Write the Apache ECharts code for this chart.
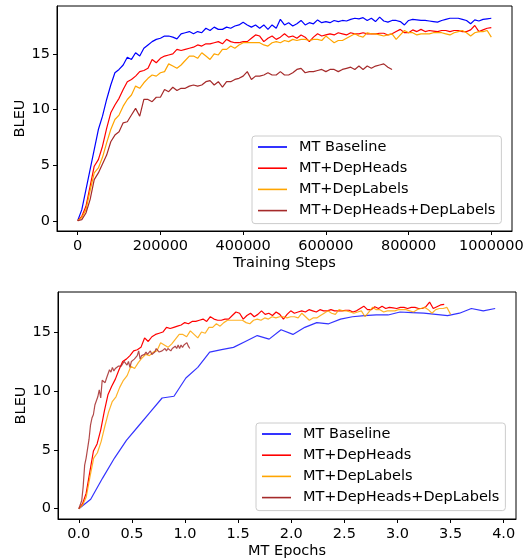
<!DOCTYPE html>
<html><head><meta charset="utf-8">
<script src="https://cdn.jsdelivr.net/npm/echarts@6/dist/echarts.min.js"></script>
<style>html,body{margin:0;padding:0;background:#fff}#c{width:527px;height:560px}</style>
</head><body><div id="c"></div><script>
// ---- Data (BLEU, one value every 10000 training steps) ----
const seriesNames = ['MT Baseline', 'MT+DepHeads', 'MT+DepLabels', 'MT+DepHeads+DepLabels'];
const stepInterval = 10000;

const baselineBleu = [
  0, 1.0, 2.8, 4.6, 6.4, 8.2, 9.4, 10.9, 12.2, 13.3,
  13.6, 14.0, 14.7, 14.5, 15.1, 14.8, 15.5, 15.8, 16.1, 16.3,
  16.4, 16.6, 16.6, 16.5, 16.35, 16.8, 16.9, 17.0, 16.8, 17.0,
  16.9, 17.3, 17.1, 17.4, 17.2, 17.2, 17.4, 17.3, 17.5, 17.6,
  17.85, 17.6, 17.4, 17.6, 17.3, 17.6, 17.2, 17.6, 17.3, 18.1,
  17.6, 17.8, 17.5, 17.7, 18.0, 17.6, 17.8, 17.7, 18.05, 17.8,
  17.9, 17.8, 18.0, 17.9, 18.0, 17.95, 18.1, 18.2, 18.15, 18.25,
  18.0, 18.2, 17.9, 18.3, 17.95, 17.85, 18.0, 18.0, 17.9, 17.6,
  18.0, 18.1, 18.05, 18.0, 18.0, 17.95, 17.9, 17.85, 18.0, 18.1,
  18.2, 18.2, 18.2, 18.1, 18.0, 17.7, 18.05, 17.95, 18.1, 18.15,
  18.2
];
const depHeadsBleu = [
  0, 0.4, 1.3, 3.1, 4.9, 5.5, 6.7, 8.3, 9.7, 10.4,
  11.0, 11.8, 12.5, 12.7, 13.0, 13.4, 13.5, 13.7, 14.5, 14.2,
  14.6, 14.8, 14.9, 15.0, 15.4, 15.3, 15.4, 15.5, 15.6, 15.8,
  15.7, 15.9, 15.9, 16.0, 16.1, 15.9, 16.3, 16.1, 16.0, 16.0,
  16.1, 16.1, 16.4, 16.7, 16.6, 16.1, 16.4, 16.6, 16.3, 16.5,
  16.8, 16.5, 16.6, 16.4, 16.7, 16.5, 16.1, 16.5, 16.8, 16.6,
  16.7, 16.8, 16.7, 16.9, 16.8, 16.7, 16.9, 16.8, 16.8, 16.9,
  16.8, 16.8, 16.8, 16.85, 16.85, 16.7, 16.8, 17.0, 17.2, 16.9,
  16.9, 17.15, 17.0, 17.2, 17.0, 17.1, 17.05, 17.0, 17.1, 17.1,
  17.0, 17.1, 17.1, 17.0, 17.0, 17.15, 17.55, 17.0, 17.15, 17.3,
  17.35
];
const depLabelsBleu = [
  0, 0.3, 1.0, 2.7, 4.3, 4.75, 5.7, 7.0, 8.2, 9.1,
  9.5, 10.3, 10.9, 11.3, 12.1, 11.9, 12.4, 12.8, 13.1, 13.0,
  13.3, 13.4, 14.1, 13.9, 13.7, 14.0, 14.4, 14.8, 14.8, 14.6,
  15.1, 14.8, 14.5, 15.0, 14.9, 15.4, 15.4, 15.7, 15.5, 15.8,
  16.0, 16.0, 16.0, 16.0, 16.0, 15.8, 15.7, 16.0, 16.1, 16.0,
  16.2, 16.1, 16.3, 16.2, 16.3, 16.3, 16.2, 16.3, 16.3, 16.2,
  16.6, 16.3, 16.0, 16.2, 16.2, 16.4, 16.6, 16.8, 16.6, 16.5,
  16.9, 16.8, 16.8, 16.7, 16.6, 16.7, 16.8, 16.3, 16.7, 17.1,
  16.9, 16.9, 16.7, 16.8, 16.8, 16.8, 16.9, 16.9, 16.9, 16.8,
  16.7, 16.9, 17.0, 17.1, 16.9, 16.6, 16.9, 17.0, 17.0, 17.1,
  16.5
];
const depBothBleu = [
  0, 0.1, 0.7, 1.9, 3.7, 4.3, 5.1, 5.9, 7.1, 7.7,
  8.0, 8.8, 8.9, 9.5, 10.1, 9.4, 10.9, 10.9, 10.7, 11.1,
  11.1, 11.8, 11.6, 12.0, 11.7, 11.9, 11.9, 12.1, 12.2, 12.1,
  12.2, 12.5, 12.6, 12.2, 12.5, 12.0, 12.5, 12.5, 12.7, 12.8,
  13.0, 13.4, 12.7, 13.0, 13.0, 13.1, 13.3, 13.1, 13.1, 13.4,
  13.1, 13.1, 13.3, 13.6, 13.7, 13.3, 13.4, 13.4, 13.5, 13.6,
  13.4, 13.6, 13.6, 13.4, 13.6, 13.7, 13.8, 13.6, 13.9, 13.6,
  13.9, 13.7, 13.9, 14.0, 14.1, 13.8, 13.6
];

// MT epochs reached per one million training steps (read from the end points of the lower chart)
const epochsPerMillionSteps = [null, 3.44, 3.50, 1.375];

// Lower chart baseline (its own, sparser evaluation points)
const baselineEpochs = [0, 0.112, 0.224, 0.336, 0.448, 0.56, 0.672, 0.784, 0.896, 1.008,
  1.12, 1.232, 1.344, 1.456, 1.568, 1.68, 1.792, 1.904, 2.016, 2.128,
  2.24, 2.352, 2.464, 2.576, 2.688, 2.8, 2.912, 3.024, 3.136, 3.248,
  3.36, 3.472, 3.584, 3.696, 3.808, 3.92];
const baselineEpochBleu = [0, 0.8, 2.6, 4.3, 5.8, 7.0, 8.2, 9.4, 9.55, 11.1,
  12.0, 13.3, 13.5, 13.7, 14.2, 14.7, 14.4, 15.2, 14.8, 15.4,
  15.8, 15.7, 16.1, 16.3, 16.4, 16.45, 16.45, 16.7, 16.65, 16.6,
  16.5, 16.4, 16.6, 17.0, 16.8, 17.0];

// Ticks
const stepTicks = [0, 200000, 400000, 600000, 800000, 1000000];
const epochTicks = [0, 0.5, 1.0, 1.5, 2.0, 2.5, 3.0, 3.5, 4.0];
const bleuTicks = [0, 5, 10, 15];

const colors = ['#0000ff', '#ff0000', '#ffa500', '#a52a2a'];
const stepSeries = [baselineBleu, depHeadsBleu, depLabelsBleu, depBothBleu];

// ---- Chart ----
const FONT = 'DejaVu Sans';
const FS = 14.5;
const chart = echarts.init(document.getElementById('c'), null, {renderer: 'canvas'});

function xAxisCfg(gridIndex, min, max, ticks, fmt, name) {
  return {
    type: 'value', gridIndex, min, max, name, nameLocation: 'middle', nameGap: 25,
    nameTextStyle: {fontFamily: FONT, fontSize: FS, color: '#000'},
    axisLine: {show: true, onZero: false, lineStyle: {color: '#000', width: 1}},
    axisTick: {show: true, customValues: ticks, length: 4, lineStyle: {color: '#000', width: 1}},
    axisLabel: {show: true, customValues: ticks, formatter: fmt, margin: 8,
      fontFamily: FONT, fontSize: FS, color: '#000'},
    splitLine: {show: false}
  };
}
function yAxisCfg(gridIndex, min, max) {
  return {
    type: 'value', gridIndex, min, max, name: 'BLEU', nameLocation: 'middle', nameGap: 29,
    nameMoveOverlap: false,
    nameTextStyle: {fontFamily: FONT, fontSize: FS, color: '#000'},
    axisLine: {show: true, onZero: false, lineStyle: {color: '#000', width: 1}},
    axisTick: {show: true, customValues: bleuTicks, length: 4, lineStyle: {color: '#000', width: 1}},
    axisLabel: {show: true, customValues: bleuTicks, formatter: v => String(v), margin: 7,
      fontFamily: FONT, fontSize: FS, color: '#000'},
    splitLine: {show: false}
  };
}
function legendCfg(left, top) {
  return {
    orient: 'vertical', left, top, data: seriesNames,
    icon: 'rect', itemWidth: 29, itemHeight: 1.6, itemGap: 5.2,
    padding: [3, 6, 5, 6],
    backgroundColor: 'rgba(255,255,255,0.8)', borderColor: '#cccccc', borderWidth: 1, borderRadius: 3,
    textStyle: {fontFamily: FONT, fontSize: FS, color: '#000', lineHeight: 16, padding: [0, 0, 0, 7]},
    selectedMode: false
  };
}

const series = [];
stepSeries.forEach((vals, k) => {
  series.push({
    name: seriesNames[k], type: 'line', xAxisIndex: 0, yAxisIndex: 0,
    data: vals.map((v, i) => [i * stepInterval, v]),
    showSymbol: false, symbol: 'none', color: colors[k],
    lineStyle: {width: 1.2, color: colors[k]}
  });
});
series.push({
  name: seriesNames[0], type: 'line', xAxisIndex: 1, yAxisIndex: 1,
  data: baselineEpochs.map((e, i) => [e, baselineEpochBleu[i]]),
  showSymbol: false, symbol: 'none', color: colors[0],
  lineStyle: {width: 1.2, color: colors[0], opacity: 0.8}
});
[1, 2, 3].forEach(k => {
  series.push({
    name: seriesNames[k], type: 'line', xAxisIndex: 1, yAxisIndex: 1,
    data: stepSeries[k].map((v, i) => [i * stepInterval / 1e6 * epochsPerMillionSteps[k], v]),
    showSymbol: false, symbol: 'none', color: colors[k],
    lineStyle: {width: 1.2, color: colors[k], opacity: k === 1 ? 1 : 0.85}
  });
});

chart.setOption({
  animation: false,
  backgroundColor: '#fff',
  grid: [
    {left: 57, right: 15, top: 6, height: 225, show: true, borderColor: '#000', borderWidth: 1, backgroundColor: 'transparent'},
    {left: 58, right: 11, top: 292, height: 229, show: true, borderColor: '#000', borderWidth: 1, backgroundColor: 'transparent'}
  ],
  xAxis: [
    xAxisCfg(0, -50000, 1050000, stepTicks, v => String(v), 'Training Steps'),
    xAxisCfg(1, -0.196, 4.116, epochTicks, v => v.toFixed(1), 'MT Epochs')
  ],
  yAxis: [yAxisCfg(0, -0.92, 19.3), yAxisCfg(1, -0.875, 18.4)],
  legend: [legendCfg(252, 136), legendCfg(256, 423)],
  series
});
</script></body></html>
